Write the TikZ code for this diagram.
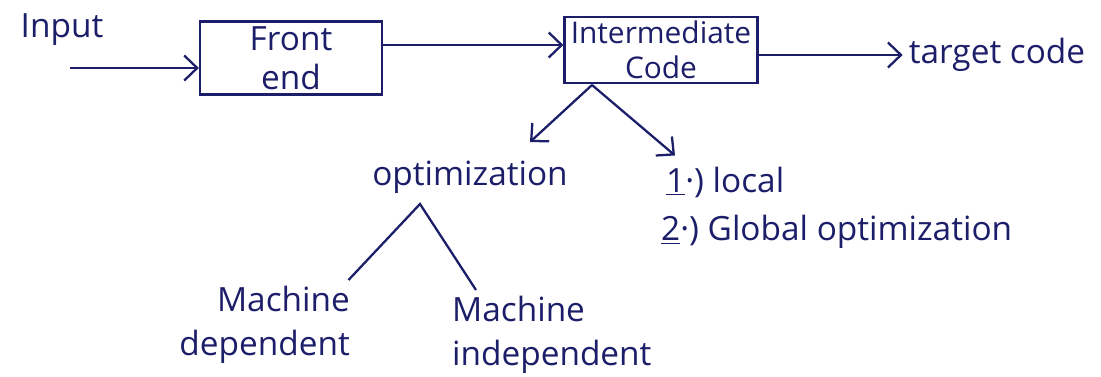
\documentclass[tikz,border=0pt]{standalone}
\usepackage{fontspec}
\setmainfont{Open Sans}
\usetikzlibrary{positioning, arrows.meta}

\definecolor{ink}{RGB}{28,30,105}

\tikzset{
  every node/.style={text=ink, font=\fontsize{19}{22}\selectfont},
  stage/.style={draw=ink, line width=1.3pt, align=center, inner sep=1pt},
  flow/.style={draw=ink, line width=1.3pt, -{Straight Barb[length=2.6mm,width=5mm]}},
  branch/.style={draw=ink, line width=1.3pt},
}

\begin{document}
\begin{tikzpicture}[x=0.02cm, y=0.02cm]
  \useasboundingbox (0,0) rectangle (1101,-376);
  \node (input) at (62,-30) {Input};
  \node[stage, minimum width=3.64cm, minimum height=1.46cm] (frontend) at (291,-58) {Front\\end};
  \node[stage, minimum width=3.86cm, minimum height=1.32cm,
        font=\fontsize{17}{20}\selectfont] (inter) at (661,-50) {Intermediate\\Code};
  \node (target) at (997,-55) {target code};
  \node (opt) at (470,-177) {optimization};
  \node[anchor=west] (local) at (660,-182) {\underline{1}·) local};
  \node[anchor=west] (global) at (655,-232) {\underline{2}·) Global optimization};
  \node[anchor=north east, align=right, font=\fontsize{19}{25}\selectfont] (mdep) at (356,-280) {Machine\\dependent};
  \node[anchor=north west, align=left, font=\fontsize{19}{25}\selectfont] (mindep) at (446,-290) {Machine\\independent};

  \coordinate (in0) at (70,-68);
  \coordinate (fork) at (592,-85);
  \coordinate (apex) at (420,-204);

  \draw[flow] (in0) -- (in0 -| frontend.west);
  \draw[flow] ([yshift=0.26cm]frontend.east) -- ([yshift=0.26cm]frontend.east -| inter.west);
  \draw[flow] (inter.east |- target.west) -- (target.west);
  \draw[flow] (fork) -- ([xshift=1.2cm,yshift=0.25cm]opt.north);
  \draw[flow] (fork) -- ([xshift=0.3cm,yshift=0.1cm]local.north west);
  \draw[branch] ([xshift=-0.15cm]mdep.north east) -- (apex) -- ([xshift=0.6cm]mindep.north west);
\end{tikzpicture}
\end{document}
